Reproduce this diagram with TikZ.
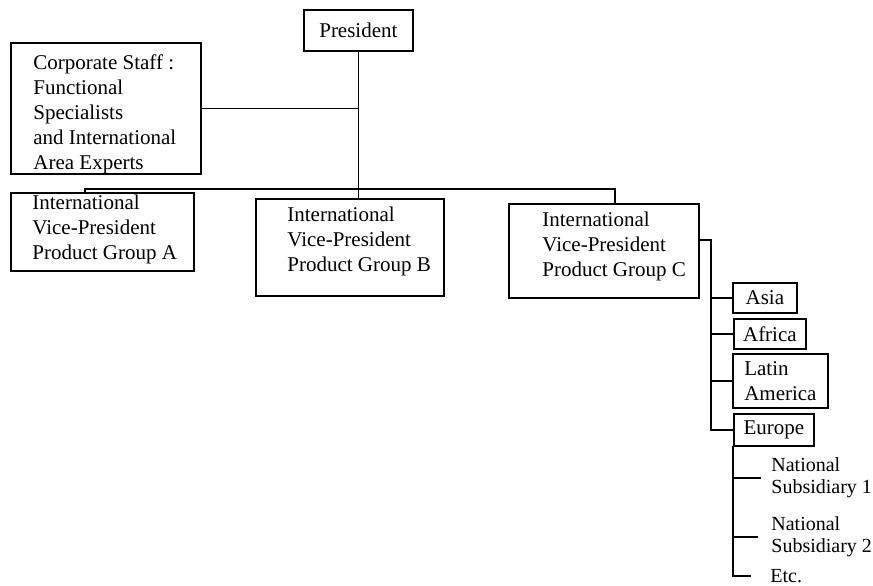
\documentclass[tikz,border=0pt]{standalone}
\usepackage{fontspec}
\setmainfont{Liberation Serif}
\usetikzlibrary{positioning}

\tikzset{
  unitbox/.style={draw, line width=0.9pt, inner sep=0pt, anchor=north west},
  unittext/.style={align=left, inner sep=0pt, anchor=north west},
  areabox/.style={draw, line width=0.9pt, inner sep=0pt, anchor=north west, align=left},
  subtext/.style={align=left, anchor=west, font=\fontsize{10}{11}\selectfont},
  conn/.style={draw, line width=0.9pt, line cap=rect},
}

\begin{document}
\begin{tikzpicture}[x=0.5pt, y=-0.5pt, font=\fontsize{10.5}{12.5}\selectfont]
        \useasboundingbox (0,0) rectangle (873,585);

        % top of the chart
        \node[areabox, align=center, minimum width=54.5pt, minimum height=20.5pt] (pres) at (303,9) {President};
        \node[unitbox, minimum width=95pt, minimum height=65.5pt] (corp) at (10,42) {};
        \node[unittext] (corptext) at (33,54) {Corporate Staff :\\Functional\\Specialists\\and International\\Area Experts};

        % product groups
        \node[unitbox, minimum width=91.5pt, minimum height=39pt] (vpa) at (10,192) {};
        \node[unittext] (vpatext) at (32,195) {International\\Vice-President\\Product Group A};
        \node[unitbox, minimum width=94pt, minimum height=48.5pt] (vpb) at (255,198) {};
        \node[unittext] (vpbtext) at (287,207) {International\\Vice-President\\Product Group B};
        \node[unitbox, minimum width=95pt, minimum height=47pt] (vpc) at (508,203) {};
        \node[unittext] (vpctext) at (542,212) {International\\Vice-President\\Product Group C};

        % areas under group C
        \node[areabox, align=center, minimum width=32pt, minimum height=15pt] (asia) at (732,282) {Asia};
        \node[areabox, align=center, minimum width=36pt, minimum height=15pt] (africa) at (733,318) {Africa};
        \node[areabox, minimum width=47.5pt, minimum height=27pt] (latin) at (732,353) {Latin\\America};
        \node[areabox, align=center, minimum width=40pt, minimum height=16pt] (europe) at (733,413) {Europe};

        % subsidiaries under Europe
        \node[subtext, inner xsep=5.5pt] (ns1) at (760,478) {National\\Subsidiary 1};
        \node[subtext, inner xsep=7pt] (ns2) at (757,537) {National\\Subsidiary 2};
        \node[subtext, inner xsep=10pt] (etc) at (750,576) {Etc.};

        \coordinate (busL) at (85,189);
        \coordinate (busR) at (615,189);
        \coordinate (cjoint) at (711,240);

        % from president to staff and groups
        \draw[conn] (corp.east) -- (corp.east -| pres.south);
        \draw[conn] (pres.south) -- (pres.south |- vpb.north);
        \draw[conn] (busL |- vpa.north) -- (busL) -- (busR) -- (busR |- vpc.north);

        % from group C to the areas
        \draw[conn] (vpc.east |- cjoint) -- (cjoint) -- (cjoint |- europe.west) -- (europe.west);
        \draw[conn] (cjoint |- asia.west) -- (asia.west);
        \draw[conn] (cjoint |- africa.west) -- (africa.west);
        \draw[conn] (cjoint |- latin.west) -- (latin.west);

        % from Europe to the subsidiaries
        \draw[conn] (europe.south west) -- (europe.south west |- etc.west) -- (etc.west);
        \draw[conn] (europe.south west |- ns1.west) -- (ns1.west);
        \draw[conn] (europe.south west |- ns2.west) -- (ns2.west);
\end{tikzpicture}
\end{document}
